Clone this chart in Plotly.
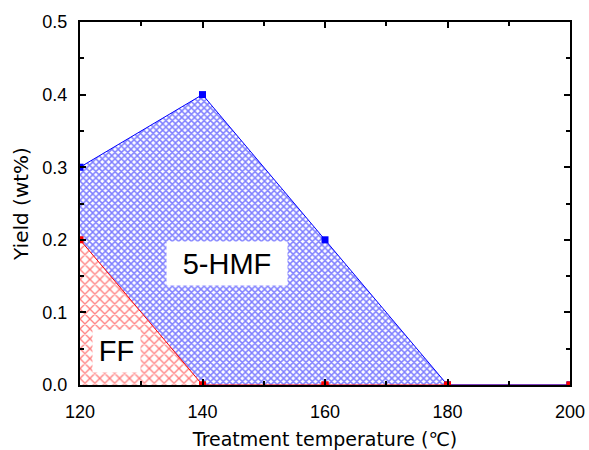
import plotly.graph_objects as go

temps = [120, 140, 160, 180, 200]
hmf_yield = [0.3, 0.4, 0.2, 0.0, 0.0]
ff_yield = [0.2, 0.0, 0.0, 0.0, 0.0]
x_ticks = [120, 140, 160, 180, 200]
y_ticks = [0.0, 0.1, 0.2, 0.3, 0.4, 0.5]

TICKFONT = "Liberation Sans"
TITLEFONT = "DejaVu Sans"

fig = go.Figure()
fig.add_trace(go.Scatter(
    x=temps, y=ff_yield, mode="lines+markers", name="FF",
    line=dict(color="red", width=1),
    marker=dict(symbol="square", size=7, color="red"),
    fill="tozeroy", fillcolor="rgba(0,0,0,0)",
    fillpattern=dict(shape="x", fgcolor="red", bgcolor="white", size=7, solidity=0.35),
))
fig.add_trace(go.Scatter(
    x=temps, y=hmf_yield, mode="lines+markers", name="5-HMF",
    line=dict(color="blue", width=1),
    marker=dict(symbol="square", size=7, color="blue"),
    fill="tonexty", fillcolor="rgba(0,0,0,0)",
    fillpattern=dict(shape="x", fgcolor="blue", bgcolor="white", size=4.5, solidity=0.55),
))
fig.add_trace(go.Scatter(
    x=temps[1:], y=ff_yield[1:], mode="markers",
    marker=dict(symbol="square", size=7, color="red"), hoverinfo="skip",
))

fig.add_annotation(x=144.0, y=0.167, text="5-HMF", showarrow=False,
                   font=dict(family=TICKFONT, size=29, color="black"),
                   bgcolor="white", borderpad=0, width=120, height=43)
fig.add_annotation(x=125.96, y=0.047, text="FF", showarrow=False,
                   font=dict(family=TICKFONT, size=29, color="black"),
                   bgcolor="white", borderpad=0, width=47, height=42)

axis_common = dict(
    showline=True, linecolor="black", linewidth=2, mirror="allticks",
    ticks="inside", ticklen=6, tickwidth=2, tickcolor="black",
    showgrid=False, zeroline=False, layer="above traces",
    tickfont=dict(family=TICKFONT, size=18, color="black"),
)
fig.update_xaxes(range=[120, 200], tickvals=x_ticks, ticklabelstandoff=9,
                 minor=dict(ticks="inside", ticklen=4, tickwidth=2, dtick=10, tickcolor="black"),
                 title=dict(text="Treatment temperature (℃)", font=dict(family=TITLEFONT, size=19, color="black"), standoff=13),
                 **axis_common)
fig.update_yaxes(range=[0, 0.5], tickvals=y_ticks, ticktext=[f"{v:.1f}" for v in y_ticks],
                 ticklabelstandoff=7,
                 minor=dict(ticks="inside", ticklen=4, tickwidth=2, dtick=0.05, tickcolor="black"),
                 title=dict(text="Yield (wt%)", font=dict(family=TITLEFONT, size=20, color="black"), standoff=8),
                 **axis_common)
fig.update_layout(
    width=589, height=450, showlegend=False,
    plot_bgcolor="white", paper_bgcolor="white",
    margin=dict(l=80, r=19, t=22, b=65, autoexpand=False),
)
fig.write_html("out.html")
